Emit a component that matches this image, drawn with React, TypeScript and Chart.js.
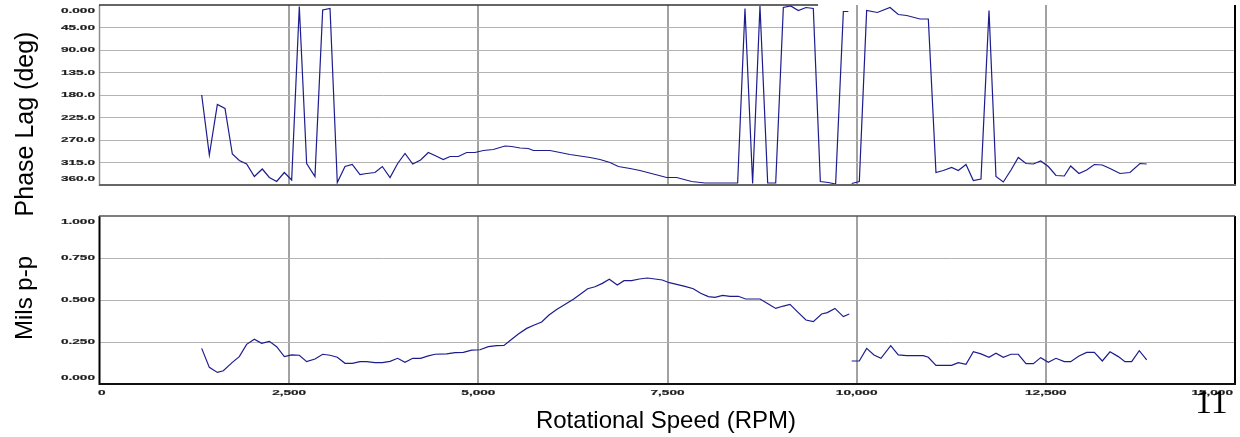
import React, { useEffect, useRef } from "react";
import { Chart, registerables } from "chart.js";

Chart.register(...registerables);

// ---------- data ----------
const rpmTickValues = [0, 2500, 5000, 7500, 10000, 12500, 15000];
const rpmTickLabels = ["0", "2,500", "5,000", "7,500", "10,000", "12,500", "15,000"];

const phaseTickValues = [0, 45, 90, 135, 180, 225, 270, 315, 360];
const phaseTickLabels = ["0.000", "45.00", "90.00", "135.0", "180.0", "225.0", "270.0", "315.0", "360.0"];

const ampTickValues = [0, 0.25, 0.5, 0.75, 1];
const ampTickLabels = ["0.000", "0.250", "0.500", "0.750", "1.000"];

const phaseRpm = [
  1344, 1445, 1551, 1652, 1749, 1841, 1938, 2040, 2145, 2238, 2335, 2436, 2533, 2634, 2731, 2841, 2943, 3040,
  3136, 3238, 3334, 3436, 3524, 3634, 3731, 3833, 3934, 4031, 4133, 4237, 4339, 4440, 4537, 4626, 4736, 4846,
  4956, 5066, 5198, 5352, 5441, 5551, 5661, 5727, 5947, 6080, 6211, 6344, 6476, 6608, 6740, 6850, 7004, 7136,
  7313, 7489, 7621, 7819, 7996, 8194, 8427, 8524, 8625, 8722, 8824, 8930, 9031, 9128, 9229, 9330, 9427, 9520,
  9625, 9722, 9824, 9890, 9912, 9934, 10035, 10132, 10273, 10441, 10550, 10661, 10837, 10947, 11048, 11145,
  11255, 11343, 11445, 11542, 11643, 11749, 11841, 11938, 12040, 12136, 12238, 12335, 12432, 12533, 12634,
  12744, 12828, 12938, 13040, 13141, 13246, 13348, 13480, 13612, 13744, 13833,
];
const phaseDeg: (number | null)[] = [
  180, 300, 199, 207, 298, 311, 318, 343, 328, 345, 353, 335, 350, 3, 317, 343, 10, 7,
  355, 323, 319, 339, 337, 335, 323, 345, 317, 297, 318, 310, 295, 302, 309, 303, 303, 295,
  295, 291, 289, 282, 283, 286, 287, 291, 291, 295, 299, 302, 305, 309, 315, 323, 327, 331,
  338, 345, 345, 353, 356, 356, 356, 7, 357, 2, 356, 356, 5, 2, 11, 5, 7, 353,
  355, 358, 13, 13, null, 357, 353, 11, 15, 5, 19, 21, 28, 28, 335, 331,
  325, 331, 319, 351, 348, 11, 343, 354, 330, 305, 317, 318, 312, 323, 341,
  342, 322, 337, 330, 319, 320, 327, 337, 335, 317, 318,
];

const ampRpm = [
  1344, 1445, 1551, 1630, 1749, 1841, 1938, 2040, 2136, 2238, 2335, 2436, 2533, 2634, 2731, 2841, 2943, 3040,
  3136, 3238, 3334, 3436, 3524, 3634, 3731, 3833, 3934, 4031, 4133, 4237, 4339, 4427, 4581, 4692, 4802, 4912,
  5022, 5132, 5242, 5339, 5441, 5529, 5639, 5740, 5837, 5934, 6035, 6154, 6256, 6352, 6445, 6542, 6639, 6731,
  6837, 6925, 7026, 7128, 7233, 7335, 7431, 7524, 7621, 7731, 7841, 7938, 8040, 8128, 8229, 8326, 8436, 8533,
  8635, 8723, 8833, 8930, 9031, 9119, 9229, 9330, 9427, 9537, 9612, 9713, 9824, 9902, 9918, 9934, 10035, 10132,
  10229, 10321, 10450, 10550, 10661, 10771, 10881, 10947, 11048, 11145, 11255, 11343, 11445, 11542, 11643,
  11749, 11841, 11938, 12040, 12136, 12238, 12335, 12432, 12533, 12634, 12744, 12828, 12938, 13040, 13141,
  13246, 13348, 13458, 13546, 13634, 13735, 13833,
];
const ampMils: (number | null)[] = [
  0.212, 0.099, 0.069, 0.079, 0.129, 0.163, 0.236, 0.266, 0.242, 0.254, 0.222, 0.163, 0.173, 0.171, 0.133, 0.149, 0.177, 0.171,
  0.159, 0.123, 0.123, 0.133, 0.133, 0.127, 0.127, 0.135, 0.153, 0.129, 0.153, 0.153, 0.167, 0.177, 0.179, 0.187, 0.188, 0.202,
  0.204, 0.222, 0.228, 0.23, 0.266, 0.298, 0.331, 0.351, 0.369, 0.411, 0.444, 0.476, 0.504, 0.536, 0.567, 0.579, 0.599, 0.623,
  0.589, 0.615, 0.615, 0.625, 0.631, 0.625, 0.619, 0.603, 0.593, 0.581, 0.567, 0.54, 0.52, 0.516, 0.528, 0.522, 0.522, 0.506,
  0.506, 0.506, 0.476, 0.45, 0.464, 0.474, 0.425, 0.381, 0.371, 0.417, 0.425, 0.45, 0.401, 0.417, null, 0.137, 0.137, 0.212,
  0.173, 0.153, 0.228, 0.173, 0.169, 0.169, 0.169, 0.159, 0.111, 0.111, 0.111, 0.127, 0.117, 0.192, 0.179,
  0.159, 0.183, 0.159, 0.177, 0.177, 0.121, 0.121, 0.157, 0.129, 0.153, 0.133, 0.133, 0.167, 0.188, 0.188,
  0.137, 0.192, 0.163, 0.133, 0.133, 0.198, 0.143,
];

// ---------- styling ----------
const LINE_COLOR = "#1c1c8e";
const LABEL_FONT = 'bold 8px "Liberation Sans", Arial, sans-serif';
const LABEL_COLOR = "#1e1e1e";
const STRETCH = 1.7;
const SANS = '"Liberation Sans", Arial, sans-serif';

function drawStretched(ctx: CanvasRenderingContext2D, text: string, left: number, y: number) {
  ctx.save();
  ctx.translate(left, y);
  ctx.scale(STRETCH, 1);
  ctx.fillText(text, 0, 0);
  ctx.strokeText(text, 0, 0);
  ctx.restore();
}

const tickLabelPlugin = {
  id: "stretchTicks",
  afterDraw(chart: any, _args: any, opts: any) {
    const { ctx, chartArea: ca, scales } = chart;
    ctx.save();
    ctx.font = LABEL_FONT;
    ctx.fillStyle = LABEL_COLOR;
    ctx.strokeStyle = LABEL_COLOR;
    ctx.lineWidth = 0.2;
    ctx.textBaseline = "middle";
    ctx.textAlign = "left";
    if (opts.yValues) {
      opts.yValues.forEach((v: number, i: number) => {
        let py = scales.y.getPixelForValue(v);
        py = Math.max(ca.top + 5.5, Math.min(ca.bottom - 6.5, py));
        const t = opts.yLabels[i];
        const w = ctx.measureText(t).width * STRETCH;
        drawStretched(ctx, t, ca.left - 5 - w, py);
      });
    }
    if (opts.xValues) {
      opts.xValues.forEach((v: number, i: number) => {
        const px = scales.x.getPixelForValue(v);
        const t = opts.xLabels[i];
        const w = ctx.measureText(t).width * STRETCH;
        let left = px - w / 2;
        left = Math.max(ca.left - 2, Math.min(ca.right - 2 - w, left));
        drawStretched(ctx, t, left, ca.bottom + 8.5);
      });
    }
    ctx.restore();
  },
};

const framePlugin = {
  id: "frame",
  afterDraw(chart: any, _args: any, opts: any) {
    const { ctx, chartArea: ca } = chart;
    const seg = (x1: number, y1: number, x2: number, y2: number, color: string, w: number) => {
      ctx.save();
      ctx.strokeStyle = color;
      ctx.lineWidth = w;
      ctx.beginPath();
      ctx.moveTo(x1, y1);
      ctx.lineTo(x2, y2);
      ctx.stroke();
      ctx.restore();
    };
    const f = opts.sides;
    if (!f) return;
    if (f.left) seg(ca.left - 0.5, ca.top, ca.left - 0.5, ca.bottom + 1, f.left[0], f.left[1]);
    if (f.right) seg(ca.right, ca.top, ca.right, ca.bottom + 1, f.right[0], f.right[1]);
    if (f.top) {
      const xEnd = f.topEnd != null ? chart.scales.x.getPixelForValue(f.topEnd) : ca.right;
      seg(ca.left - 1, ca.top, xEnd, ca.top, f.top[0], f.top[1]);
    }
    if (f.bottom) seg(ca.left - 1, ca.bottom, ca.right + 1, ca.bottom, f.bottom[0], f.bottom[1]);
  },
};

function makeConfig(p: {
  xs: number[];
  ys: (number | null)[];
  yMin: number;
  yMax: number;
  reverse: boolean;
  yTicks: number[];
  yLabels: string[];
  showX: boolean;
  padTop: number;
  padBottom: number;
  sides: any;
}) {
  const points = p.xs.map((x, i) => ({ x, y: p.ys[i] }));
  return {
    type: "line" as const,
    data: {
      datasets: [
        {
          data: points,
          borderColor: LINE_COLOR,
          borderWidth: 1.2,
          pointRadius: 0,
          spanGaps: false,
          tension: 0,
          fill: false,
        },
      ],
    },
    options: {
      animation: false,
      responsive: false,
      events: [],
      layout: { padding: { left: 100, right: 5, top: p.padTop, bottom: p.padBottom } },
      plugins: {
        legend: { display: false },
        tooltip: { enabled: false },
        stretchTicks: {
          yValues: p.yTicks,
          yLabels: p.yLabels,
          xValues: p.showX ? rpmTickValues : null,
          xLabels: p.showX ? rpmTickLabels : null,
        },
        frame: { sides: p.sides },
      },
      scales: {
        x: {
          type: "linear",
          min: 0,
          max: 15000,
          afterBuildTicks: (s: any) => {
            s.ticks = rpmTickValues.map((v) => ({ value: v }));
          },
          ticks: { display: false },
          grid: {
            drawTicks: false,
            lineWidth: 2,
            color: (c: any) =>
              c.tick && (c.tick.value === 0 || c.tick.value === 15000) ? "rgba(0,0,0,0)" : "#a2a2a2",
          },
          border: { display: false },
          afterFit: (s: any) => {
            s.height = 0;
          },
        },
        y: {
          type: "linear",
          min: p.yMin,
          max: p.yMax,
          reverse: p.reverse,
          afterBuildTicks: (s: any) => {
            s.ticks = p.yTicks.map((v) => ({ value: v }));
          },
          ticks: { display: false },
          grid: {
            drawTicks: false,
            lineWidth: 1,
            color: (c: any) =>
              c.tick && (c.tick.value === p.yMin || c.tick.value === p.yMax) ? "rgba(0,0,0,0)" : "#b3b3b3",
          },
          border: { display: false },
          afterFit: (s: any) => {
            s.width = 0;
          },
        },
      },
    },
    plugins: [tickLabelPlugin, framePlugin],
  };
}

export default function App() {
  const topRef = useRef<HTMLCanvasElement>(null);
  const botRef = useRef<HTMLCanvasElement>(null);

  useEffect(() => {
    const top = new Chart(
      topRef.current as HTMLCanvasElement,
      makeConfig({
        xs: phaseRpm,
        ys: phaseDeg,
        yMin: 0,
        yMax: 360,
        reverse: true,
        yTicks: phaseTickValues,
        yLabels: phaseTickLabels,
        showX: false,
        padTop: 5,
        padBottom: 15,
        sides: {
          left: ["#8c8c8c", 1.5],
          top: ["#333333", 1.5],
          topEnd: 9490,
          bottom: ["#666666", 2],
          right: ["#000000", 2],
        },
      }) as any
    );
    const bot = new Chart(
      botRef.current as HTMLCanvasElement,
      makeConfig({
        xs: ampRpm,
        ys: ampMils,
        yMin: 0,
        yMax: 1,
        reverse: false,
        yTicks: ampTickValues,
        yLabels: ampTickLabels,
        showX: true,
        padTop: 16,
        padBottom: 53,
        sides: {
          left: ["#000000", 2],
          top: ["#555555", 1.5],
          bottom: ["#111111", 2],
          right: ["#000000", 2],
        },
      }) as any
    );
    return () => {
      top.destroy();
      bot.destroy();
    };
  }, []);

  const rotTitle = (cx: number, cy: number, size: number): React.CSSProperties => ({
    position: "absolute",
    left: cx,
    top: cy,
    transform: "translate(-50%, -50%) rotate(-90deg)",
    whiteSpace: "nowrap",
    font: `${size}px ${SANS}`,
    lineHeight: `${size}px`,
    color: "#000",
  });

  return (
    <div
      style={{
        position: "absolute",
        left: 0,
        top: 0,
        width: 1240,
        height: 437,
        background: "#fff",
        overflow: "hidden",
      }}
    >
      <canvas ref={topRef} width={1240} height={200} style={{ position: "absolute", left: 0, top: 0 }} />
      <canvas ref={botRef} width={1240} height={237} style={{ position: "absolute", left: 0, top: 200 }} />
      <div style={rotTitle(23.7, 124, 25)}>Phase Lag (deg)</div>
      <div style={rotTitle(23.7, 298, 24)}>Mils p-p</div>
      <div
        style={{
          position: "absolute",
          left: 666,
          top: 408,
          transform: "translateX(-50%)",
          whiteSpace: "nowrap",
          font: `24px ${SANS}`,
          lineHeight: "24px",
          color: "#000",
        }}
      >
        Rotational Speed (RPM)
      </div>
      <div
        style={{
          position: "absolute",
          left: 1195,
          top: 385,
          whiteSpace: "nowrap",
          font: '34px "Liberation Serif", "Times New Roman", serif',
          lineHeight: "34px",
          color: "#000",
        }}
      >
        11
      </div>
    </div>
  );
}
